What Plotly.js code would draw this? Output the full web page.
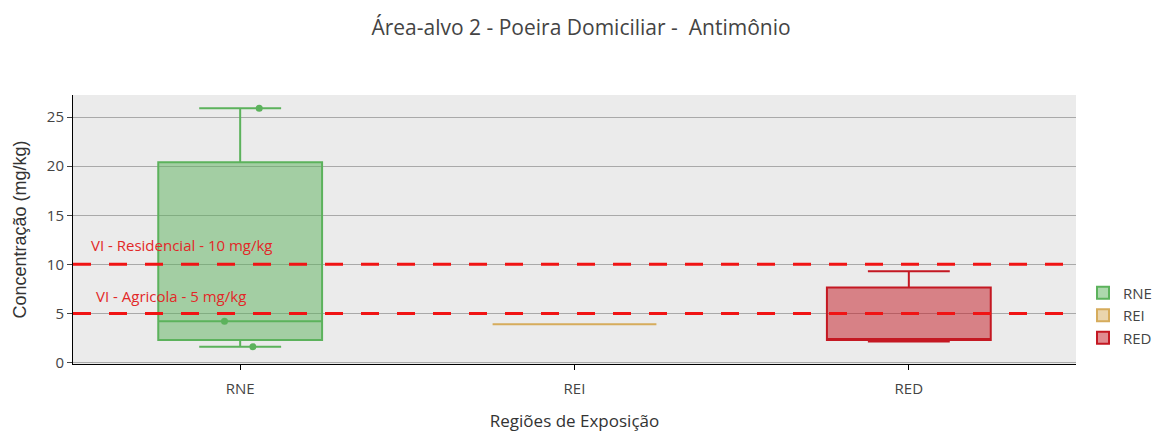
<!DOCTYPE html>
<html>
<head>
<meta charset="utf-8">
<script src="https://cdn.plot.ly/plotly-3.0.1.min.js"></script>
<style>html,body{margin:0;padding:0;background:#fff;}#chart{width:1162px;height:432px;}</style>
</head>
<body>
<div id="chart"></div>
<script>
// Categories (regions)
var categories = ["RNE", "REI", "RED"];
// Box statistics (mg/kg)
var q1Values = [2.3, 3.9, 2.3];
var medianValues = [4.2, 3.9, 2.35];
var q3Values = [20.4, 3.9, 7.65];
var lowerFenceValues = [1.6, 3.9, 2.15];
var upperFenceValues = [25.9, 3.9, 9.3];
// Sample points shown for RNE
var rnePoints = [25.9, 4.2, 1.6];
// Reference limits
var limitValues = [10, 5];
var limitLabels = ["VI - Residencial - 10 mg/kg", "VI - Agricola - 5 mg/kg"];

var lineColors = ["rgb(92,178,92)", "rgb(214,172,92)", "rgb(196,24,34)"];
var fillColors = ["rgba(92,178,92,0.5)", "rgba(214,172,92,0.5)", "rgba(196,24,34,0.5)"];

var traces = categories.map(function (c, i) {
  var t = {
    type: "box",
    name: c,
    x: [c],
    q1: [q1Values[i]],
    median: [medianValues[i]],
    q3: [q3Values[i]],
    lowerfence: [lowerFenceValues[i]],
    upperfence: [upperFenceValues[i]],
    line: {color: lineColors[i], width: 2},
    fillcolor: fillColors[i],
    marker: {color: lineColors[i], size: 7},
    boxpoints: false,
    hoverinfo: "y",
    legendgroup: "g" + i
  };
  if (i === 0) {
    t.y = [rnePoints];
    t.boxpoints = "all";
    t.jitter = 0.3;
    t.pointpos = 0;
  }
  return t;
});

var shapes = limitValues.map(function (v) {
  return {type: "line", xref: "paper", yref: "y", x0: 0, x1: 1, y0: v, y1: v,
          line: {color: "rgb(240,20,20)", width: 3, dash: "18px,18px"}};
});

var annXs = [0.016, 0.021];
var annShifts = [7, 5];
var annotations = limitValues.map(function (v, i) {
  return {xref: "paper", yref: "y", x: annXs[i], y: v, xanchor: "left", yanchor: "bottom",
          yshift: annShifts[i], text: limitLabels[i], showarrow: false,
          font: {family: "Open Sans, sans-serif", size: 15, color: "rgb(226,40,40)"}};
});

var layout = {
  width: 1162, height: 432,
  margin: {l: 73, r: 86, t: 95, b: 68},
  paper_bgcolor: "#ffffff",
  plot_bgcolor: "#ebebeb",
  title: {text: "Área-alvo 2 - Poeira Domiciliar -  Antimônio", x: 0.5, xanchor: "center",
          y: 0.935, yref: "container", yanchor: "middle",
          font: {family: "Open Sans, sans-serif", size: 21, color: "#444"}},
  showlegend: true,
  legend: {xref: "container", yref: "container", x: 0.932, xanchor: "left", y: 0.36, yanchor: "top",
           tracegroupgap: 0,
           font: {family: "Open Sans, sans-serif", size: 15, color: "#444"}},
  xaxis: {
    type: "category", range: [-0.5, 2.5],
    showline: true, linecolor: "#000", linewidth: 1,
    ticks: "outside", ticklen: 5, tickcolor: "#000",
    ticklabelstandoff: 6,
    showgrid: false, zeroline: false,
    tickfont: {family: "Open Sans, sans-serif", size: 15, color: "#444"},
    title: {text: "Regiões de Exposição", standoff: 20,
            font: {family: "Open Sans, sans-serif", size: 17, color: "#333"}}
  },
  yaxis: {
    range: [-0.15, 27.25],
    tickvals: [0, 5, 10, 15, 20, 25],
    showline: true, linecolor: "#000", linewidth: 1,
    ticks: "outside", ticklen: 5, tickcolor: "#444",
    showgrid: true, gridcolor: "#a9a9a9", gridwidth: 1,
    zeroline: false,
    tickfont: {family: "Open Sans, sans-serif", size: 15, color: "#444"},
    title: {text: "Concentração (mg/kg)", standoff: 15,
            font: {family: "Liberation Sans, Arial, sans-serif", size: 18, color: "#333"}}
  },
  shapes: shapes,
  annotations: annotations
};

Plotly.newPlot("chart", traces, layout, {displayModeBar: false, staticPlot: true});
</script>
</body>
</html>
